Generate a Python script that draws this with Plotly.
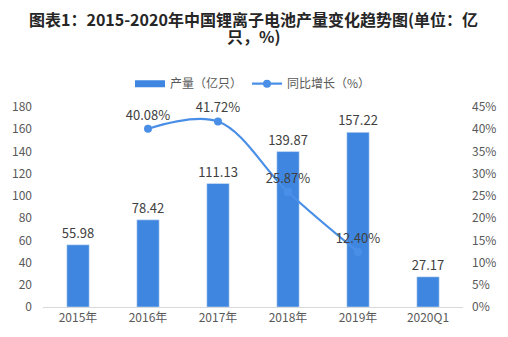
import plotly.graph_objects as go

categories = ["2015年", "2016年", "2017年", "2018年", "2019年", "2020Q1"]
output = [55.98, 78.42, 111.13, 139.87, 157.22, 27.17]
growth_cats = ["2016年", "2017年", "2018年", "2019年"]
growth = [40.08, 41.72, 25.87, 12.40]
title_lines = ["图表1：2015-2020年中国锂离子电池产量变化趋势图(单位：亿", "只，%)"]

FONT = "Noto Sans CJK SC, Microsoft YaHei, sans-serif"
BAR_COLOR = "#3F86E0"
LINE_COLOR = "#4A8FE7"
TXT = "#404040"
W, H = 508, 337
M = dict(l=37, r=41, t=107, b=29)
PLOT_H = H - M["t"] - M["b"]


def paper_y(px_from_top):
    return (H - M["b"] - px_from_top) / PLOT_H


fig = go.Figure()
fig.add_trace(go.Bar(
    x=categories, y=output, name="产量（亿只）", showlegend=False,
    marker_color=BAR_COLOR, width=0.32,
    text=[f"{v:.2f}" for v in output], textposition="outside",
    constraintext="none",
    textfont=dict(size=13, color=TXT), cliponaxis=False,
))
# legend entry with a wide bar swatch
fig.add_trace(go.Scatter(
    x=[categories[0]], y=[None], name="产量（亿只）", mode="lines",
    line=dict(color=BAR_COLOR, width=7), legendrank=1,
))
fig.add_trace(go.Scatter(
    x=growth_cats, y=growth, name="同比增长（%）", yaxis="y2",
    mode="lines+markers+text", legendrank=2,
    line=dict(color=LINE_COLOR, width=2.2, shape="spline", smoothing=1.0),
    marker=dict(size=8, color=LINE_COLOR),
    text=[f"{v:.2f}%" for v in growth], textposition="top center",
    textfont=dict(size=13, color=TXT), cliponaxis=False,
))

# two-line bold title, one annotation per line
for line, y_px in zip(title_lines, [19, 36]):
    fig.add_annotation(
        text=f"<b>{line}</b>",
        xref="paper", yref="paper", x=0.5, xanchor="center",
        y=paper_y(y_px), yanchor="middle",
        showarrow=False, align="center",
        font=dict(size=16, color="#262626", family=FONT),
    )

fig.update_layout(
    width=W, height=H, margin=M,
    paper_bgcolor="white", plot_bgcolor="white",
    font=dict(family=FONT, size=12, color="#595959"),
    legend=dict(
        orientation="h", x=0.5, xanchor="center",
        yref="paper", y=paper_y(69), yanchor="top",
        font=dict(size=12, color="#595959"),
    ),
    showlegend=True,
    xaxis=dict(
        type="category", categoryorder="array", categoryarray=categories,
        showline=True, linecolor="#D9D9D9", linewidth=1, ticks="",
        tickfont=dict(size=12, color="#595959"),
    ),
    yaxis=dict(
        range=[0, 180], dtick=20, showgrid=False, zeroline=False,
        tickfont=dict(size=12, color="#595959"), ticklabelstandoff=10,
    ),
    yaxis2=dict(
        range=[0, 45], dtick=5, overlaying="y", side="right",
        showgrid=False, zeroline=False, ticksuffix="%",
        tickfont=dict(size=12, color="#595959"), ticklabelstandoff=8,
    ),
)

fig.write_html("out.html")
